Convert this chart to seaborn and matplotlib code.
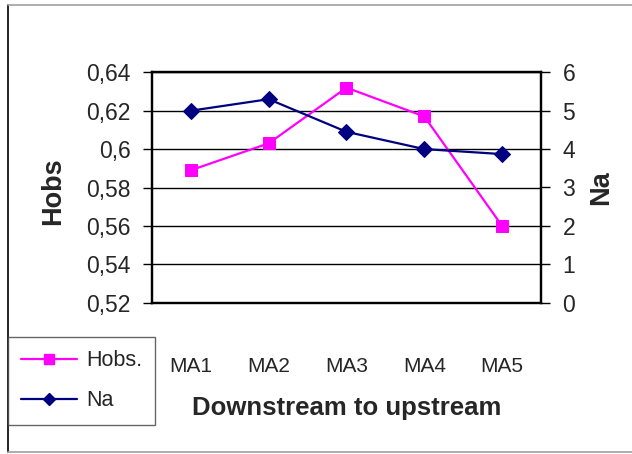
import matplotlib
matplotlib.use('Agg')
import matplotlib.pyplot as plt
from matplotlib.lines import Line2D
import pandas as pd
import seaborn as sns

# values
sites = ["MA1", "MA2", "MA3", "MA4", "MA5"]
hobs = [0.589, 0.603, 0.632, 0.617, 0.560]
na = [5.0, 5.3, 4.45, 4.0, 3.87]
hobs_ticks = [0.52, 0.54, 0.56, 0.58, 0.60, 0.62, 0.64]
hobs_tick_labels = ["0,52", "0,54", "0,56", "0,58", "0,6", "0,62", "0,64"]
na_ticks = [0, 1, 2, 3, 4, 5, 6]

sns.set_style("white")
plt.rcParams['font.family'] = ['Liberation Sans', 'DejaVu Sans']

df = pd.DataFrame({"site": sites, "Hobs": hobs, "Na": na})

W, H = 632, 454
fig = plt.figure(figsize=(W / 100, H / 100), dpi=100)
ax = fig.add_axes([152 / W, 1 - 302.7 / H, (541 - 152) / W, (302.7 - 72.3) / H])
ax2 = ax.twinx()

sns.lineplot(data=df, x="site", y="Hobs", ax=ax, color="#FF00FF", marker="s",
             markersize=9, markeredgecolor="#FF00FF", linewidth=1.6, zorder=3)
sns.lineplot(data=df, x="site", y="Na", ax=ax2, color="#000080", marker="D",
             markersize=8, markeredgecolor="#000080", linewidth=1.6, zorder=3)

# left axis (Hobs)
ax.set_xlim(-0.5, 4.5)
ax.set_ylim(0.52, 0.64)
ax.set_yticks(hobs_ticks)
ax.set_yticklabels(hobs_tick_labels)
ax.yaxis.grid(True, color="black", linewidth=1)
ax.xaxis.grid(False)
ax.set_axisbelow(True)

# category boundaries as major ticks, names as minor ticks
ax.set_xticks([i - 0.5 for i in range(len(sites) + 1)])
ax.set_xticklabels([""] * (len(sites) + 1))
ax.set_xticks(range(len(sites)), minor=True)
ax.set_xticklabels(sites, minor=True)
ax.tick_params(axis="x", which="major", direction="inout", length=10, width=1, color="black")
ax.tick_params(axis="x", which="minor", length=0, pad=39, labelsize=15)
ax.tick_params(axis="y", direction="out", length=6.5, width=1, color="black",
               labelsize=16.5, pad=9)

ax.set_xlabel("Downstream to upstream", fontsize=18.5, fontweight="bold")
ax.xaxis.set_label_coords(0.5, (302.7 - 408) / 230.4)
ax.xaxis.label.set_verticalalignment("center")
ax.set_ylabel("Hobs", fontsize=19.5, fontweight="bold")
ax.yaxis.set_label_coords((53 - 152) / 389, (302.7 - 191) / 230.4)
ax.yaxis.label.set_verticalalignment("center")

# right axis (Na)
ax2.set_ylim(0, 6)
ax2.set_yticks(na_ticks)
ax2.tick_params(axis="y", direction="out", length=6.5, width=1, color="black",
                labelsize=16.5, pad=9)
ax2.set_ylabel("Na", fontsize=19.5, fontweight="bold")
ax2.yaxis.set_label_coords((601 - 152) / 389, (302.7 - 188) / 230.4)
ax2.yaxis.label.set_verticalalignment("center")
ax2.grid(False)

for a in (ax, ax2):
    for s in a.spines.values():
        s.set_visible(True)
        s.set_color("black")
        s.set_linewidth(1.6)

# legend in the lower left corner
handles = [
    Line2D([], [], color="#FF00FF", marker="s", markersize=7.5, linewidth=1.6, label="Hobs."),
    Line2D([], [], color="#000080", marker="D", markersize=6.5, linewidth=1.6, label="Na"),
]
leg = fig.legend(handles=handles, loc="upper left", bbox_to_anchor=(8 / W, 1 - 337 / H),
                 frameon=True, fancybox=False, fontsize=15.5, handlelength=2.6,
                 handletextpad=0.4, labelspacing=0.88, borderpad=0.62, borderaxespad=0)
leg.get_frame().set_edgecolor("#404040")
leg.get_frame().set_linewidth(1)

# chart frame
fig.add_artist(Line2D([8 / W, 8 / W], [1 - 452 / H, 1 - 5 / H], color="black", lw=1.2,
                      transform=fig.transFigure))
fig.add_artist(Line2D([8 / W, 1], [1 - 5 / H, 1 - 5 / H], color="#a0a0a0", lw=1.2,
                      transform=fig.transFigure))
fig.add_artist(Line2D([8 / W, 1], [1 - 452 / H, 1 - 452 / H], color="#a0a0a0", lw=1.2,
                      transform=fig.transFigure))

fig.savefig("out.png", dpi=100)
